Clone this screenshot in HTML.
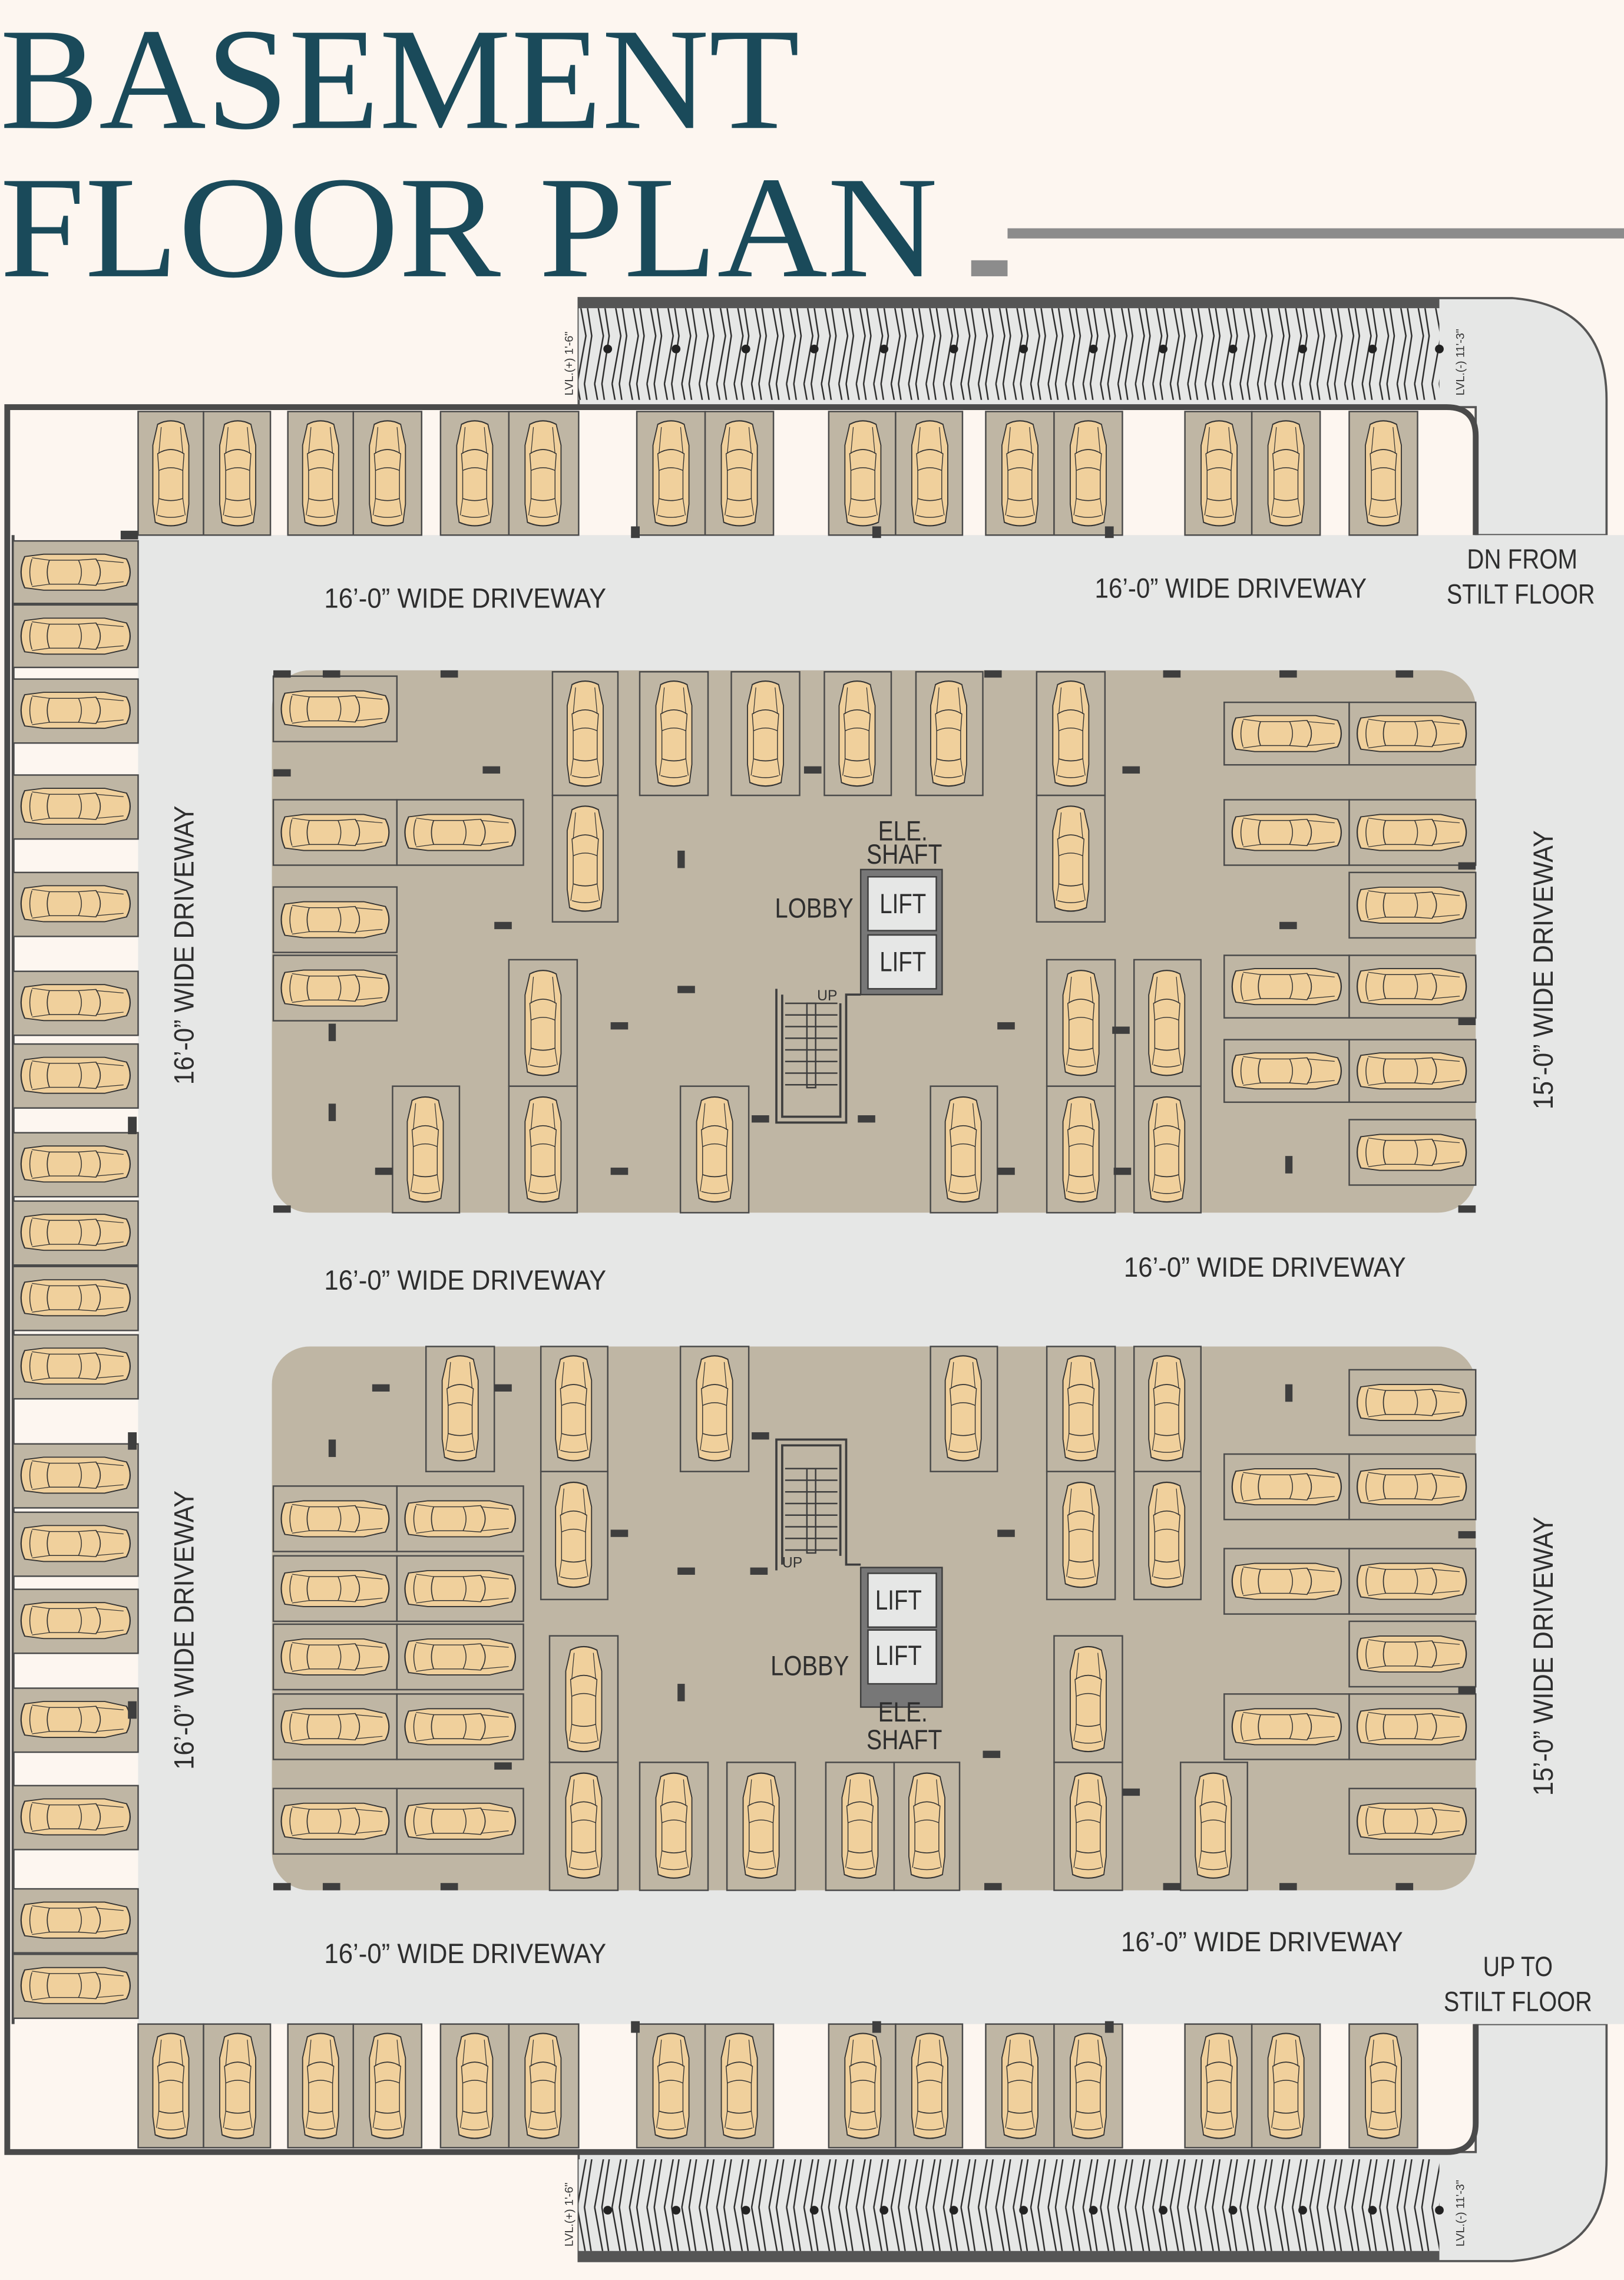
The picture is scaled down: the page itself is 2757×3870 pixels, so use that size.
<!DOCTYPE html>
<html><head><meta charset="utf-8"><style>
html,body{margin:0;padding:0;background:#fdf6f0}
svg{display:block}
.s{fill:#bfb6a4;stroke:#4a4a4a;stroke-width:1}
.c{fill:#3e3e3e}
.t{font-family:"Liberation Sans",sans-serif;fill:#2e2e2e;font-size:19px}
.lv{font-family:"Liberation Sans",sans-serif;fill:#333;font-size:8px}
</style></head><body>
<svg width="2757" height="3870" viewBox="0 0 1117 1568" xmlns="http://www.w3.org/2000/svg" preserveAspectRatio="none">
<defs>
<symbol id="cv" viewBox="0 0 40 80" preserveAspectRatio="none">
<path d="M9,5 Q20,0 31,5 L35,20 L35,62 L33,75 Q20,80 7,75 L5,62 L5,20 Z" fill="#f0d09c" stroke="#333" stroke-width="0.9"/>
<path d="M9,26 Q20,20 31,26 L30,38 L30,58 Q20,61 10,58 L10,38 Z" fill="none" stroke="#333" stroke-width="0.7"/>
<path d="M10,58 L8,70 M30,58 L32,70 M9,70 Q20,73 31,70 M12,7 L10,26 M28,7 L30,26 M10,38 Q20,34 30,38" fill="none" stroke="#333" stroke-width="0.6"/>
</symbol>
<symbol id="ch" viewBox="0 0 80 40" preserveAspectRatio="none">
<g transform="translate(80,0) rotate(90)"><use href="#cv" width="40" height="80"/></g>
</symbol>
<pattern id="hz" width="12" height="66" patternUnits="userSpaceOnUse">
<rect width="12" height="66" fill="#e6e7e6"/>
<path d="M1,0 L7,33 L1,66 M6,0 L11,33 L6,66" stroke="#2a2a2a" stroke-width="1" fill="none"/>
</pattern>
</defs>
<rect width="1117" height="1568" fill="#fdf6f0"/>
<!-- title -->
<text x="0" y="88" font-family="Liberation Serif,serif" font-size="100" fill="#1a4a5a" textLength="550" lengthAdjust="spacingAndGlyphs">BASEMENT</text>
<text x="0" y="190" font-family="Liberation Serif,serif" font-size="100" fill="#1a4a5a" textLength="645" lengthAdjust="spacingAndGlyphs">FLOOR PLAN</text>
<rect x="693" y="157" width="424" height="7" fill="#8c8c8c"/>
<rect x="668" y="179" width="25" height="11" fill="#8c8c8c"/>

<!-- driveway / ramps -->
<path d="M398,205 L1040,205 Q1105,210 1105,275 L1105,368 L1015,368 L1015,280 L398,280 Z" fill="#e6e7e6" stroke="#555" stroke-width="1.5"/>
<path d="M398,1555 L1040,1555 Q1105,1550 1105,1485 L1105,1392 L1015,1392 L1015,1480 L398,1480 Z" fill="#e6e7e6" stroke="#555" stroke-width="1.5"/>
<rect x="95" y="368" width="1022" height="1024" fill="#e6e7e6"/>
<rect x="398" y="205" width="592" height="7" fill="#555"/>
<rect x="398" y="212" width="592" height="63" fill="url(#hz)"/>
<rect x="398" y="1548" width="592" height="7" fill="#555"/>
<rect x="398" y="1485" width="592" height="63" fill="url(#hz)"/>
<g class="lv">
<text transform="translate(394,272) rotate(-90)">LVL.(+) 1'-6"</text>
<text transform="translate(1007,272) rotate(-90)">LVL.(-) 11'-3"</text>
<text transform="translate(394,1545) rotate(-90)">LVL.(+) 1'-6"</text>
<text transform="translate(1007,1545) rotate(-90)">LVL.(-) 11'-3"</text>
</g>
<g fill="#222">
<circle cx="418" cy="240" r="3"/><circle cx="465" cy="240" r="3"/><circle cx="513" cy="240" r="3"/><circle cx="560" cy="240" r="3"/><circle cx="608" cy="240" r="3"/><circle cx="656" cy="240" r="3"/><circle cx="704" cy="240" r="3"/><circle cx="752" cy="240" r="3"/><circle cx="800" cy="240" r="3"/><circle cx="848" cy="240" r="3"/><circle cx="896" cy="240" r="3"/><circle cx="944" cy="240" r="3"/><circle cx="990" cy="240" r="3"/>
<circle cx="418" cy="1520" r="3"/><circle cx="465" cy="1520" r="3"/><circle cx="513" cy="1520" r="3"/><circle cx="560" cy="1520" r="3"/><circle cx="608" cy="1520" r="3"/><circle cx="656" cy="1520" r="3"/><circle cx="704" cy="1520" r="3"/><circle cx="752" cy="1520" r="3"/><circle cx="800" cy="1520" r="3"/><circle cx="848" cy="1520" r="3"/><circle cx="896" cy="1520" r="3"/><circle cx="944" cy="1520" r="3"/><circle cx="990" cy="1520" r="3"/>
</g>

<!-- outer walls -->
<path d="M1015,368 L1015,300 Q1015,280 995,280 L5,280 L5,1480 L995,1480 Q1015,1480 1015,1460 L1015,1392" fill="none" stroke="#4a4a4a" stroke-width="4"/>
<line x1="9" y1="368" x2="9" y2="1392" stroke="#4a4a4a" stroke-width="2"/>

<!-- top row slots -->
<g>
<rect class="s" x="95" y="283" width="45" height="85"/><use href="#cv" x="101" y="287" width="33" height="77"/>
<rect class="s" x="140" y="283" width="46" height="85"/><use href="#cv" x="147" y="287" width="33" height="77"/>
<rect class="s" x="198" y="283" width="45" height="85"/><use href="#cv" x="204" y="287" width="33" height="77"/>
<rect class="s" x="243" y="283" width="47" height="85"/><use href="#cv" x="250" y="287" width="33" height="77"/>
<rect class="s" x="303" y="283" width="47" height="85"/><use href="#cv" x="310" y="287" width="33" height="77"/>
<rect class="s" x="350" y="283" width="48" height="85"/><use href="#cv" x="357" y="287" width="33" height="77"/>
<rect class="s" x="438" y="283" width="47" height="85"/><use href="#cv" x="445" y="287" width="33" height="77"/>
<rect class="s" x="485" y="283" width="47" height="85"/><use href="#cv" x="492" y="287" width="33" height="77"/>
<rect class="s" x="570" y="283" width="46" height="85"/><use href="#cv" x="577" y="287" width="33" height="77"/>
<rect class="s" x="616" y="283" width="46" height="85"/><use href="#cv" x="623" y="287" width="33" height="77"/>
<rect class="s" x="678" y="283" width="47" height="85"/><use href="#cv" x="685" y="287" width="33" height="77"/>
<rect class="s" x="725" y="283" width="47" height="85"/><use href="#cv" x="732" y="287" width="33" height="77"/>
<rect class="s" x="815" y="283" width="46" height="85"/><use href="#cv" x="822" y="287" width="33" height="77"/>
<rect class="s" x="861" y="283" width="47" height="85"/><use href="#cv" x="868" y="287" width="33" height="77"/>
<rect class="s" x="928" y="283" width="47" height="85"/><use href="#cv" x="935" y="287" width="33" height="77"/>
</g>
<!-- bottom row slots -->
<g transform="translate(0,1109)">
<rect class="s" x="95" y="283" width="45" height="85"/><use href="#cv" x="101" y="287" width="33" height="77"/>
<rect class="s" x="140" y="283" width="46" height="85"/><use href="#cv" x="147" y="287" width="33" height="77"/>
<rect class="s" x="198" y="283" width="45" height="85"/><use href="#cv" x="204" y="287" width="33" height="77"/>
<rect class="s" x="243" y="283" width="47" height="85"/><use href="#cv" x="250" y="287" width="33" height="77"/>
<rect class="s" x="303" y="283" width="47" height="85"/><use href="#cv" x="310" y="287" width="33" height="77"/>
<rect class="s" x="350" y="283" width="48" height="85"/><use href="#cv" x="357" y="287" width="33" height="77"/>
<rect class="s" x="438" y="283" width="47" height="85"/><use href="#cv" x="445" y="287" width="33" height="77"/>
<rect class="s" x="485" y="283" width="47" height="85"/><use href="#cv" x="492" y="287" width="33" height="77"/>
<rect class="s" x="570" y="283" width="46" height="85"/><use href="#cv" x="577" y="287" width="33" height="77"/>
<rect class="s" x="616" y="283" width="46" height="85"/><use href="#cv" x="623" y="287" width="33" height="77"/>
<rect class="s" x="678" y="283" width="47" height="85"/><use href="#cv" x="685" y="287" width="33" height="77"/>
<rect class="s" x="725" y="283" width="47" height="85"/><use href="#cv" x="732" y="287" width="33" height="77"/>
<rect class="s" x="815" y="283" width="46" height="85"/><use href="#cv" x="822" y="287" width="33" height="77"/>
<rect class="s" x="861" y="283" width="47" height="85"/><use href="#cv" x="868" y="287" width="33" height="77"/>
<rect class="s" x="928" y="283" width="47" height="85"/><use href="#cv" x="935" y="287" width="33" height="77"/>
</g>

<!-- left column -->
<g>
<rect class="s" x="9" y="372" width="86" height="43"/><use href="#ch" x="12" y="377" width="80" height="33"/>
<rect class="s" x="9" y="416" width="86" height="43"/><use href="#ch" x="12" y="421" width="80" height="33"/>
<rect class="s" x="9" y="467" width="86" height="44"/><use href="#ch" x="12" y="472" width="80" height="33"/>
<rect class="s" x="9" y="533" width="86" height="44"/><use href="#ch" x="12" y="538" width="80" height="33"/>
<rect class="s" x="9" y="600" width="86" height="44"/><use href="#ch" x="12" y="605" width="80" height="33"/>
<rect class="s" x="9" y="668" width="86" height="44"/><use href="#ch" x="12" y="673" width="80" height="33"/>
<rect class="s" x="9" y="718" width="86" height="44"/><use href="#ch" x="12" y="723" width="80" height="33"/>
<rect class="s" x="9" y="779" width="86" height="44"/><use href="#ch" x="12" y="784" width="80" height="33"/>
<rect class="s" x="9" y="826" width="86" height="44"/><use href="#ch" x="12" y="831" width="80" height="33"/>
<rect class="s" x="9" y="871" width="86" height="44"/><use href="#ch" x="12" y="876" width="80" height="33"/>
<rect class="s" x="9" y="918" width="86" height="44"/><use href="#ch" x="12" y="923" width="80" height="33"/>
<rect class="s" x="9" y="993" width="86" height="44"/><use href="#ch" x="12" y="998" width="80" height="33"/>
<rect class="s" x="9" y="1040" width="86" height="44"/><use href="#ch" x="12" y="1045" width="80" height="33"/>
<rect class="s" x="9" y="1093" width="86" height="44"/><use href="#ch" x="12" y="1098" width="80" height="33"/>
<rect class="s" x="9" y="1161" width="86" height="44"/><use href="#ch" x="12" y="1166" width="80" height="33"/>
<rect class="s" x="9" y="1228" width="86" height="44"/><use href="#ch" x="12" y="1233" width="80" height="33"/>
<rect class="s" x="9" y="1299" width="86" height="44"/><use href="#ch" x="12" y="1304" width="80" height="33"/>
<rect class="s" x="9" y="1344" width="86" height="44"/><use href="#ch" x="12" y="1349" width="80" height="33"/>
</g>

<!-- islands -->
<rect x="187" y="461" width="828" height="373" rx="26" fill="#bfb6a4"/>
<rect x="187" y="926" width="828" height="374" rx="26" fill="#bfb6a4"/>

<!-- island 1 horizontal -->
<g>
<rect class="s" x="188" y="465" width="85" height="45"/><use href="#ch" x="191" y="471" width="79" height="33"/>
<rect class="s" x="188" y="550" width="85" height="45"/><use href="#ch" x="191" y="556" width="79" height="33"/>
<rect class="s" x="273" y="550" width="87" height="45"/><use href="#ch" x="276" y="556" width="81" height="33"/>
<rect class="s" x="188" y="610" width="85" height="45"/><use href="#ch" x="191" y="616" width="79" height="33"/>
<rect class="s" x="188" y="657" width="85" height="45"/><use href="#ch" x="191" y="663" width="79" height="33"/>
<rect class="s" x="842" y="483" width="86" height="43"/><use href="#ch" x="845" y="488" width="80" height="33"/>
<rect class="s" x="928" y="483" width="87" height="43"/><use href="#ch" x="931" y="488" width="80" height="33"/>
<rect class="s" x="842" y="550" width="86" height="45"/><use href="#ch" x="845" y="556" width="80" height="33"/>
<rect class="s" x="928" y="550" width="87" height="45"/><use href="#ch" x="931" y="556" width="80" height="33"/>
<rect class="s" x="928" y="600" width="87" height="45"/><use href="#ch" x="931" y="606" width="80" height="33"/>
<rect class="s" x="842" y="657" width="86" height="43"/><use href="#ch" x="845" y="662" width="80" height="33"/>
<rect class="s" x="928" y="657" width="87" height="43"/><use href="#ch" x="931" y="662" width="80" height="33"/>
<rect class="s" x="842" y="715" width="86" height="43"/><use href="#ch" x="845" y="720" width="80" height="33"/>
<rect class="s" x="928" y="715" width="87" height="43"/><use href="#ch" x="931" y="720" width="80" height="33"/>
<rect class="s" x="928" y="770" width="87" height="45"/><use href="#ch" x="931" y="776" width="80" height="33"/>
</g>
<!-- island 1 vertical -->
<g>
<rect class="s" x="380" y="462" width="45" height="85"/><use href="#cv" x="386" y="466" width="33" height="77"/>
<rect class="s" x="380" y="547" width="45" height="87"/><use href="#cv" x="386" y="552" width="33" height="77"/>
<rect class="s" x="440" y="462" width="47" height="85"/><use href="#cv" x="447" y="466" width="33" height="77"/>
<rect class="s" x="503" y="462" width="47" height="85"/><use href="#cv" x="510" y="466" width="33" height="77"/>
<rect class="s" x="567" y="462" width="46" height="85"/><use href="#cv" x="573" y="466" width="33" height="77"/>
<rect class="s" x="630" y="462" width="46" height="85"/><use href="#cv" x="636" y="466" width="33" height="77"/>
<rect class="s" x="713" y="462" width="47" height="85"/><use href="#cv" x="720" y="466" width="33" height="77"/>
<rect class="s" x="713" y="547" width="47" height="87"/><use href="#cv" x="720" y="552" width="33" height="77"/>
<rect class="s" x="350" y="660" width="47" height="87"/><use href="#cv" x="357" y="665" width="33" height="77"/>
<rect class="s" x="350" y="747" width="47" height="87"/><use href="#cv" x="357" y="752" width="33" height="77"/>
<rect class="s" x="270" y="747" width="46" height="87"/><use href="#cv" x="276" y="752" width="33" height="77"/>
<rect class="s" x="468" y="747" width="47" height="87"/><use href="#cv" x="475" y="752" width="33" height="77"/>
<rect class="s" x="640" y="747" width="46" height="87"/><use href="#cv" x="646" y="752" width="33" height="77"/>
<rect class="s" x="720" y="660" width="47" height="87"/><use href="#cv" x="727" y="665" width="33" height="77"/>
<rect class="s" x="720" y="747" width="47" height="87"/><use href="#cv" x="727" y="752" width="33" height="77"/>
<rect class="s" x="780" y="660" width="46" height="87"/><use href="#cv" x="786" y="665" width="33" height="77"/>
<rect class="s" x="780" y="747" width="46" height="87"/><use href="#cv" x="786" y="752" width="33" height="77"/>
</g>
<!-- island 2 vertical -->
<g>
<rect class="s" x="293" y="926" width="47" height="86"/><use href="#cv" x="300" y="930" width="33" height="77"/>
<rect class="s" x="372" y="926" width="46" height="86"/><use href="#cv" x="378" y="930" width="33" height="77"/>
<rect class="s" x="372" y="1012" width="46" height="88"/><use href="#cv" x="378" y="1017" width="33" height="77"/>
<rect class="s" x="468" y="926" width="47" height="86"/><use href="#cv" x="475" y="930" width="33" height="77"/>
<rect class="s" x="640" y="926" width="46" height="86"/><use href="#cv" x="646" y="930" width="33" height="77"/>
<rect class="s" x="720" y="926" width="47" height="86"/><use href="#cv" x="727" y="930" width="33" height="77"/>
<rect class="s" x="720" y="1012" width="47" height="88"/><use href="#cv" x="727" y="1017" width="33" height="77"/>
<rect class="s" x="780" y="926" width="46" height="86"/><use href="#cv" x="786" y="930" width="33" height="77"/>
<rect class="s" x="780" y="1012" width="46" height="88"/><use href="#cv" x="786" y="1017" width="33" height="77"/>
<rect class="s" x="378" y="1125" width="47" height="87"/><use href="#cv" x="385" y="1130" width="33" height="77"/>
<rect class="s" x="378" y="1212" width="47" height="88"/><use href="#cv" x="385" y="1217" width="33" height="77"/>
<rect class="s" x="440" y="1212" width="47" height="88"/><use href="#cv" x="447" y="1217" width="33" height="77"/>
<rect class="s" x="500" y="1212" width="47" height="88"/><use href="#cv" x="507" y="1217" width="33" height="77"/>
<rect class="s" x="568" y="1212" width="47" height="88"/><use href="#cv" x="575" y="1217" width="33" height="77"/>
<rect class="s" x="615" y="1212" width="45" height="88"/><use href="#cv" x="621" y="1217" width="33" height="77"/>
<rect class="s" x="725" y="1125" width="47" height="87"/><use href="#cv" x="732" y="1130" width="33" height="77"/>
<rect class="s" x="725" y="1212" width="47" height="88"/><use href="#cv" x="732" y="1217" width="33" height="77"/>
<rect class="s" x="812" y="1212" width="46" height="88"/><use href="#cv" x="818" y="1217" width="33" height="77"/>
</g>
<!-- island 2 horizontal -->
<g>
<rect class="s" x="188" y="1022" width="85" height="45"/><use href="#ch" x="191" y="1028" width="79" height="33"/>
<rect class="s" x="273" y="1022" width="87" height="45"/><use href="#ch" x="276" y="1028" width="81" height="33"/>
<rect class="s" x="188" y="1070" width="85" height="45"/><use href="#ch" x="191" y="1076" width="79" height="33"/>
<rect class="s" x="273" y="1070" width="87" height="45"/><use href="#ch" x="276" y="1076" width="81" height="33"/>
<rect class="s" x="188" y="1117" width="85" height="45"/><use href="#ch" x="191" y="1123" width="79" height="33"/>
<rect class="s" x="273" y="1117" width="87" height="45"/><use href="#ch" x="276" y="1123" width="81" height="33"/>
<rect class="s" x="188" y="1165" width="85" height="45"/><use href="#ch" x="191" y="1171" width="79" height="33"/>
<rect class="s" x="273" y="1165" width="87" height="45"/><use href="#ch" x="276" y="1171" width="81" height="33"/>
<rect class="s" x="188" y="1230" width="85" height="45"/><use href="#ch" x="191" y="1236" width="79" height="33"/>
<rect class="s" x="273" y="1230" width="87" height="45"/><use href="#ch" x="276" y="1236" width="81" height="33"/>
<rect class="s" x="928" y="942" width="87" height="45"/><use href="#ch" x="931" y="948" width="80" height="33"/>
<rect class="s" x="842" y="1000" width="86" height="45"/><use href="#ch" x="845" y="1006" width="80" height="33"/>
<rect class="s" x="928" y="1000" width="87" height="45"/><use href="#ch" x="931" y="1006" width="80" height="33"/>
<rect class="s" x="842" y="1065" width="86" height="45"/><use href="#ch" x="845" y="1071" width="80" height="33"/>
<rect class="s" x="928" y="1065" width="87" height="45"/><use href="#ch" x="931" y="1071" width="80" height="33"/>
<rect class="s" x="928" y="1115" width="87" height="45"/><use href="#ch" x="931" y="1121" width="80" height="33"/>
<rect class="s" x="842" y="1165" width="86" height="45"/><use href="#ch" x="845" y="1171" width="80" height="33"/>
<rect class="s" x="928" y="1165" width="87" height="45"/><use href="#ch" x="931" y="1171" width="80" height="33"/>
<rect class="s" x="928" y="1230" width="87" height="45"/><use href="#ch" x="931" y="1236" width="80" height="33"/>
</g>

<!-- core 1 -->
<rect x="592" y="598" width="56" height="86" fill="#777" stroke="#3e3e3e" stroke-width="1"/>
<rect x="597" y="603" width="47" height="37" fill="#e6e7e6" stroke="#3e3e3e"/>
<rect x="597" y="643" width="47" height="37" fill="#e6e7e6" stroke="#3e3e3e"/>
<g fill="none" stroke="#3e3e3e" stroke-width="1.5">
<path d="M534,680 L534,772 L582,772 L582,684 L592,684"/>
<path d="M538,684 L538,768 L578,768 L578,690"/>
<path d="M540,690 L576,690 M540,698 L576,698 M540,706 L576,706 M540,714 L576,714 M540,722 L576,722 M540,730 L576,730 M540,738 L576,738 M540,746 L576,746" stroke-width="1"/>
<rect x="555" y="690" width="6" height="58" stroke-width="1"/>
</g>
<!-- core 2 -->
<rect x="592" y="1078" width="56" height="96" fill="#777" stroke="#3e3e3e" stroke-width="1"/>
<rect x="597" y="1082" width="47" height="37" fill="#e6e7e6" stroke="#3e3e3e"/>
<rect x="597" y="1121" width="47" height="37" fill="#e6e7e6" stroke="#3e3e3e"/>
<g fill="none" stroke="#3e3e3e" stroke-width="1.5">
<path d="M534,1080 L534,990 L582,990 L582,1076 L592,1076"/>
<path d="M538,1076 L538,994 L578,994 L578,1070"/>
<path d="M540,1010 L576,1010 M540,1018 L576,1018 M540,1026 L576,1026 M540,1034 L576,1034 M540,1042 L576,1042 M540,1050 L576,1050 M540,1058 L576,1058 M540,1066 L576,1066" stroke-width="1"/>
<rect x="555" y="1010" width="6" height="58" stroke-width="1"/>
</g>

<!-- columns -->
<g class="c">
<rect x="188" y="461" width="12" height="5"/><rect x="222" y="461" width="12" height="5"/><rect x="303" y="461" width="12" height="5"/><rect x="677" y="461" width="12" height="5"/><rect x="800" y="461" width="12" height="5"/><rect x="880" y="461" width="12" height="5"/><rect x="960" y="461" width="12" height="5"/>
<rect x="188" y="529" width="12" height="5"/><rect x="332" y="527" width="12" height="5"/><rect x="553" y="527" width="12" height="5"/><rect x="772" y="527" width="12" height="5"/>
<rect x="466" y="585" width="5" height="12"/><rect x="340" y="634" width="12" height="5"/><rect x="880" y="634" width="12" height="5"/>
<rect x="466" y="678" width="12" height="5"/><rect x="420" y="703" width="12" height="5"/><rect x="686" y="703" width="12" height="5"/><rect x="226" y="704" width="5" height="12"/><rect x="765" y="706" width="12" height="5"/>
<rect x="226" y="759" width="5" height="12"/><rect x="517" y="767" width="12" height="5"/><rect x="590" y="767" width="12" height="5"/><rect x="884" y="795" width="5" height="12"/>
<rect x="258" y="803" width="12" height="5"/><rect x="420" y="803" width="12" height="5"/><rect x="686" y="803" width="12" height="5"/><rect x="766" y="803" width="12" height="5"/>
<rect x="188" y="829" width="12" height="5"/><rect x="1003" y="829" width="12" height="5"/>
<rect x="256" y="952" width="12" height="5"/><rect x="340" y="952" width="12" height="5"/><rect x="884" y="952" width="5" height="12"/><rect x="226" y="990" width="5" height="12"/><rect x="517" y="985" width="12" height="5"/>
<rect x="466" y="1078" width="12" height="5"/><rect x="686" y="1052" width="12" height="5"/><rect x="420" y="1052" width="12" height="5"/><rect x="516" y="1078" width="12" height="5"/>
<rect x="466" y="1158" width="5" height="12"/><rect x="676" y="1204" width="12" height="5"/><rect x="772" y="1230" width="12" height="5"/><rect x="340" y="1212" width="12" height="5"/>
<rect x="188" y="1295" width="12" height="5"/><rect x="222" y="1295" width="12" height="5"/><rect x="303" y="1295" width="12" height="5"/><rect x="677" y="1295" width="12" height="5"/><rect x="800" y="1295" width="12" height="5"/><rect x="880" y="1295" width="12" height="5"/><rect x="960" y="1295" width="12" height="5"/>
<rect x="1003" y="1053" width="12" height="5"/><rect x="1003" y="1160" width="12" height="5"/><rect x="1003" y="700" width="12" height="5"/><rect x="1003" y="593" width="12" height="5"/>
<rect x="83" y="365" width="12" height="6"/><rect x="434" y="362" width="6" height="8"/><rect x="600" y="362" width="6" height="8"/><rect x="760" y="362" width="6" height="8"/><rect x="88" y="768" width="6" height="12"/><rect x="88" y="985" width="6" height="12"/><rect x="88" y="1170" width="6" height="12"/><rect x="434" y="1390" width="6" height="8"/><rect x="600" y="1390" width="6" height="8"/><rect x="760" y="1390" width="6" height="8"/>
</g>

<!-- labels -->
<g class="t">
<text x="223" y="418" textLength="194" lengthAdjust="spacingAndGlyphs">16’-0” WIDE DRIVEWAY</text>
<text x="753" y="411" textLength="187" lengthAdjust="spacingAndGlyphs">16’-0” WIDE DRIVEWAY</text>
<text x="223" y="887" textLength="194" lengthAdjust="spacingAndGlyphs">16’-0” WIDE DRIVEWAY</text>
<text x="773" y="878" textLength="194" lengthAdjust="spacingAndGlyphs">16’-0” WIDE DRIVEWAY</text>
<text x="223" y="1350" textLength="194" lengthAdjust="spacingAndGlyphs">16’-0” WIDE DRIVEWAY</text>
<text x="771" y="1342" textLength="194" lengthAdjust="spacingAndGlyphs">16’-0” WIDE DRIVEWAY</text>
<text transform="translate(133,746) rotate(-90)" textLength="192" lengthAdjust="spacingAndGlyphs">16’-0” WIDE DRIVEWAY</text>
<text transform="translate(133,1217) rotate(-90)" textLength="192" lengthAdjust="spacingAndGlyphs">16’-0” WIDE DRIVEWAY</text>
<text transform="translate(1068,763) rotate(-90)" textLength="192" lengthAdjust="spacingAndGlyphs">15’-0” WIDE DRIVEWAY</text>
<text transform="translate(1068,1235) rotate(-90)" textLength="192" lengthAdjust="spacingAndGlyphs">15’-0” WIDE DRIVEWAY</text>
<text x="1009" y="391" textLength="76" lengthAdjust="spacingAndGlyphs">DN FROM</text>
<text x="995" y="415" textLength="102" lengthAdjust="spacingAndGlyphs">STILT FLOOR</text>
<text x="1020" y="1359" textLength="48" lengthAdjust="spacingAndGlyphs">UP TO</text>
<text x="993" y="1383" textLength="102" lengthAdjust="spacingAndGlyphs">STILT FLOOR</text>
<text x="604" y="578" textLength="34" lengthAdjust="spacingAndGlyphs">ELE.</text>
<text x="596" y="594" textLength="52" lengthAdjust="spacingAndGlyphs">SHAFT</text>
<text x="533" y="631" textLength="54" lengthAdjust="spacingAndGlyphs">LOBBY</text>
<text x="605" y="628" textLength="32" lengthAdjust="spacingAndGlyphs">LIFT</text>
<text x="605" y="668" textLength="32" lengthAdjust="spacingAndGlyphs">LIFT</text>
<text x="602" y="1107" textLength="32" lengthAdjust="spacingAndGlyphs">LIFT</text>
<text x="602" y="1145" textLength="32" lengthAdjust="spacingAndGlyphs">LIFT</text>
<text x="530" y="1152" textLength="54" lengthAdjust="spacingAndGlyphs">LOBBY</text>
<text x="604" y="1184" textLength="34" lengthAdjust="spacingAndGlyphs">ELE.</text>
<text x="596" y="1203" textLength="52" lengthAdjust="spacingAndGlyphs">SHAFT</text>
</g>
<text x="562" y="688" font-family="Liberation Sans,sans-serif" font-size="10" fill="#333">UP</text>
<text x="538" y="1078" font-family="Liberation Sans,sans-serif" font-size="10" fill="#333">UP</text>
</svg>
</body></html>
